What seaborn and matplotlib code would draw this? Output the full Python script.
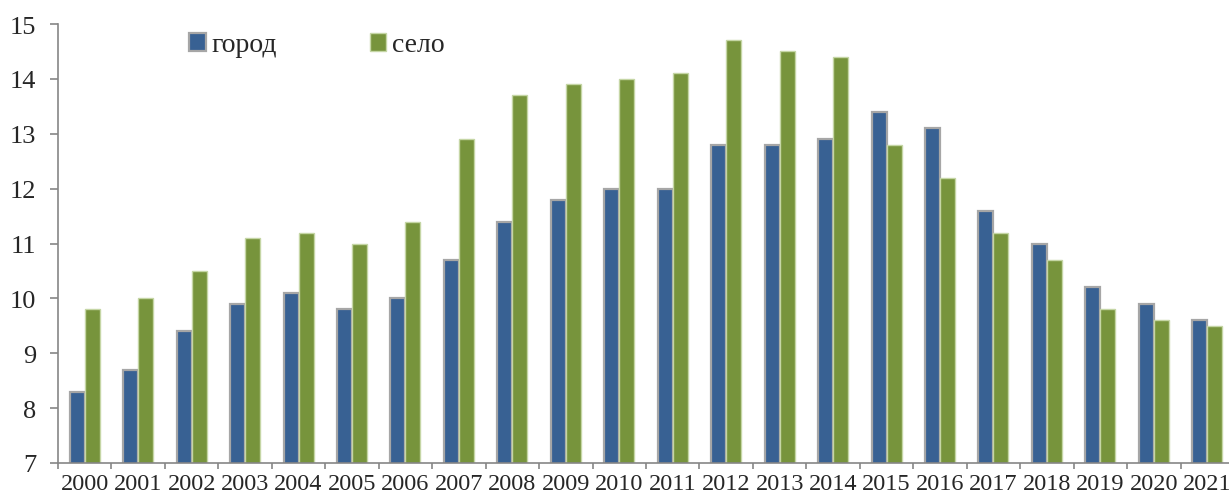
import matplotlib
matplotlib.use("Agg")
import matplotlib.pyplot as plt
import seaborn as sns
import pandas as pd
import numpy as np
from matplotlib.ticker import FixedLocator, NullFormatter
from matplotlib.patches import Patch

years = [str(y) for y in range(2000, 2022)]
gorod = [8.3, 8.7, 9.4, 9.9, 10.1, 9.8, 10.0, 10.7, 11.4, 11.8, 12.0, 12.0,
         12.8, 12.8, 12.9, 13.4, 13.1, 11.6, 11.0, 10.2, 9.9, 9.6]
selo = [9.8, 10.0, 10.5, 11.1, 11.2, 11.0, 11.4, 12.9, 13.7, 13.9, 14.0, 14.1,
        14.7, 14.5, 14.4, 12.8, 12.2, 11.2, 10.7, 9.8, 9.6, 9.5]
series_names = ["город", "село"]
colors = ["#386193", "#77943C"]
edges = ["#A6A6A6", "#C5D6A5"]

df = pd.DataFrame({
    "year": years * 2,
    "value": gorod + selo,
    "series": [series_names[0]] * len(years) + [series_names[1]] * len(years),
})

sns.set_style("white")
plt.rcParams["font.family"] = ["Liberation Serif", "DejaVu Serif"]

fig = plt.figure(figsize=(12.29, 5.02), dpi=100)
ax = fig.add_axes([58 / 1229, 38 / 502, 1176 / 1229, 439 / 502])

sns.barplot(data=df, x="year", y="value", hue="series", palette=colors,
            width=0.56, ax=ax, legend=False, saturation=1, errorbar=None)

for cont, ec, lw in zip(ax.containers, edges, [1.6, 1.0]):
    for p in cont.patches:
        p.set_edgecolor(ec)
        p.set_linewidth(lw)

ax.set_ylim(7, 15)
ax.set_xlim(-0.5, len(years) - 0.5)
ax.set_yticks(range(7, 16))
ax.tick_params(axis="y", labelsize=19, length=5.8, width=1.2, color="#868686",
               direction="out", left=True, pad=10)

ax.xaxis.set_major_locator(FixedLocator(np.arange(-0.5, len(years), 1.0)))
ax.xaxis.set_major_formatter(NullFormatter())
ax.xaxis.set_minor_locator(FixedLocator(np.arange(len(years))))
ax.set_xticklabels(years, minor=True)
ax.tick_params(axis="x", which="major", length=4.5, width=1.2, color="#868686",
               direction="out", bottom=True)
ax.tick_params(axis="x", which="minor", length=0, labelsize=17.5, pad=7)

ax.set_xlabel("")
ax.set_ylabel("")
for s in ["top", "right"]:
    ax.spines[s].set_visible(False)
for s in ["left", "bottom"]:
    ax.spines[s].set_color("#868686")
    ax.spines[s].set_linewidth(1.2)

handles = [Patch(facecolor=colors[0], edgecolor=edges[0], linewidth=1.6),
           Patch(facecolor=colors[1], edgecolor=edges[1], linewidth=1.0)]
fig.legend(handles, series_names, loc="center left",
           bbox_to_anchor=(189 / 1229, 1 - 46 / 502), ncol=2, frameon=False,
           fontsize=20, handlelength=0.6, handleheight=0.6,
           handletextpad=0.2, columnspacing=3.35, borderaxespad=0,
           borderpad=0)

fig.savefig("out.png", dpi=100)
